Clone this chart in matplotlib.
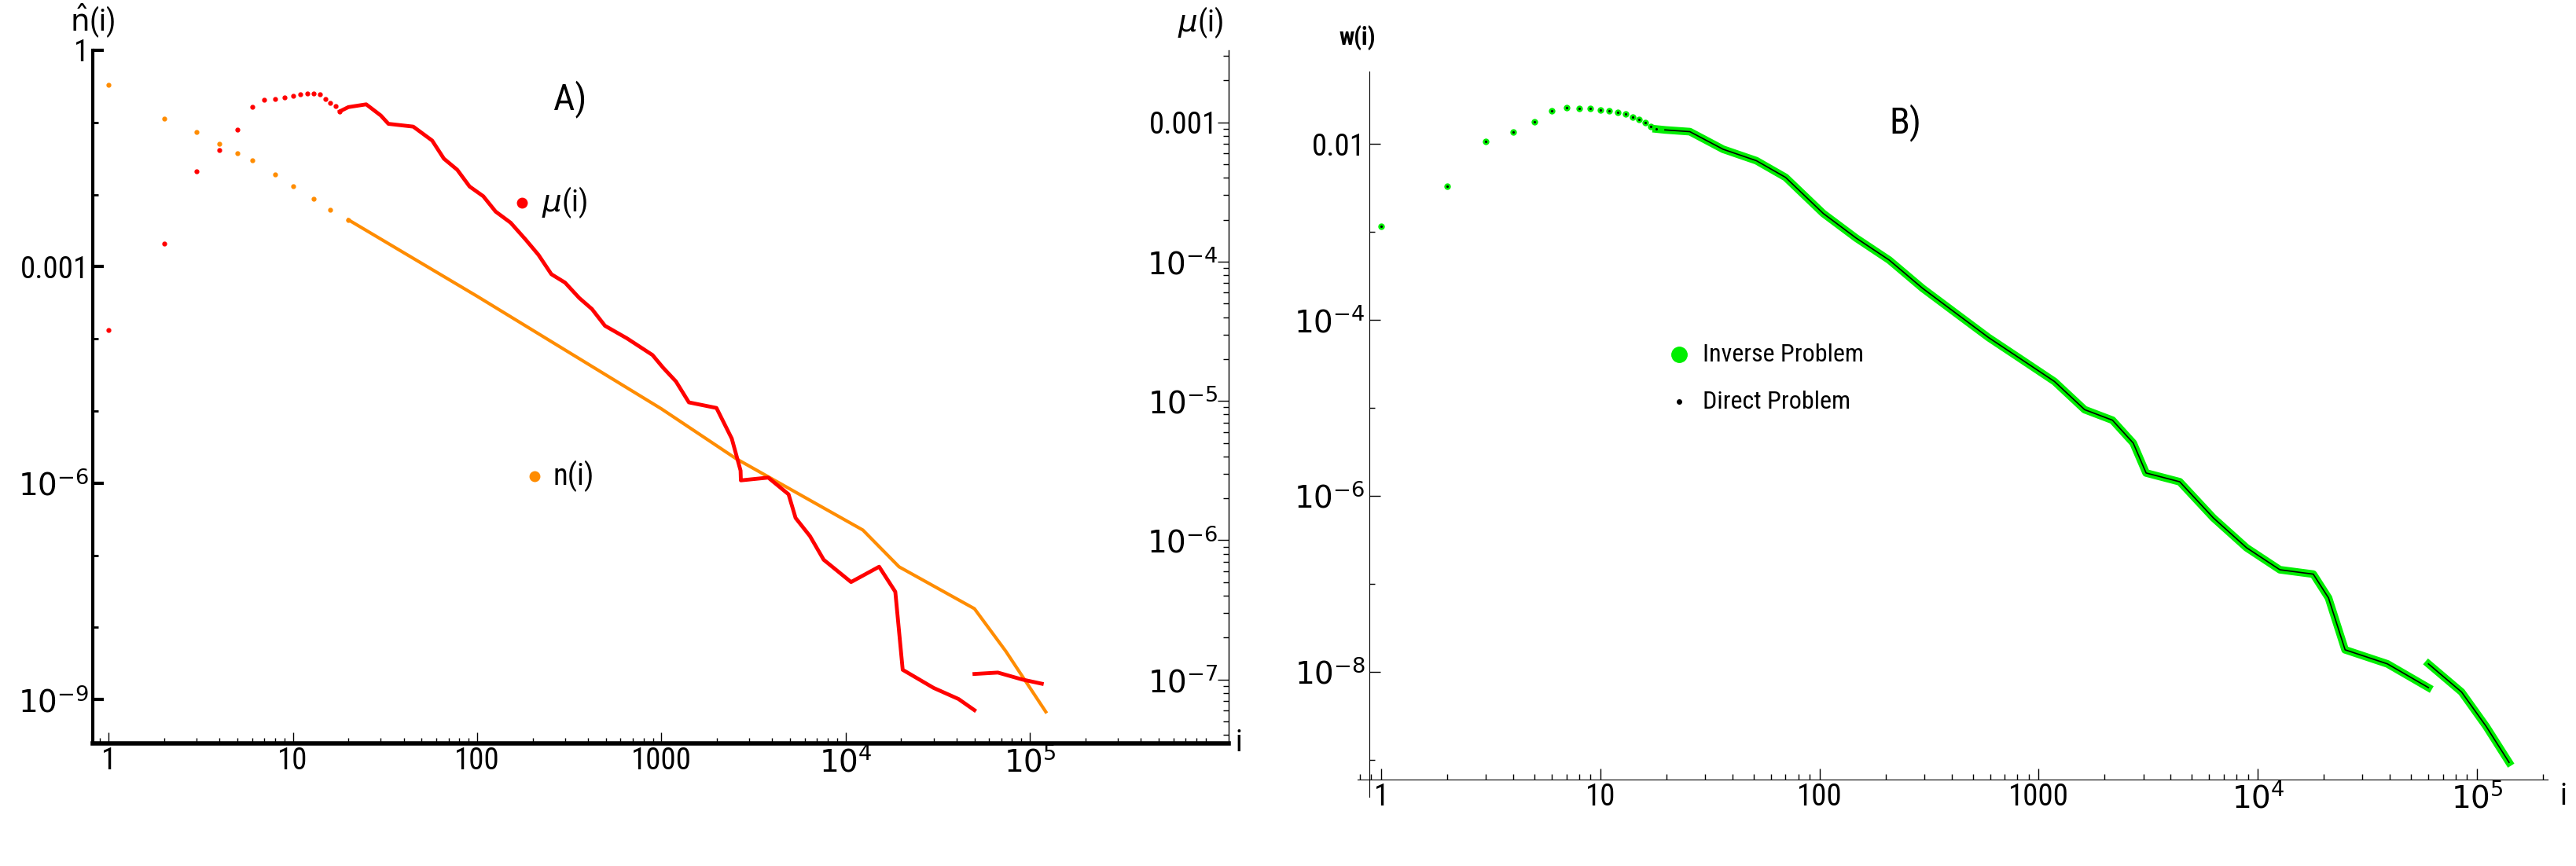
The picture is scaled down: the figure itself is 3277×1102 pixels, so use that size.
import numpy as np
import matplotlib
matplotlib.use("Agg")
import matplotlib.pyplot as plt
from matplotlib.ticker import FixedLocator, FuncFormatter, NullFormatter

plt.rcParams['font.family'] = ['Liberation Sans Narrow', 'Roboto Condensed', 'DejaVu Sans']

# ---- Panel A data ----
n_i_dots = [1, 2, 3, 4, 5, 6, 8, 10, 13, 16, 20]
n_log_dots = [-0.48, -0.95, -1.13, -1.30, -1.43, -1.53, -1.72, -1.88, -2.06, -2.21, -2.35]
n_i_line = [20, 100, 1000, 2540, 12400, 19500, 50000, 74000, 122000]
n_log_line = [-2.35, -3.41, -4.97, -5.66, -6.65, -7.16, -7.74, -8.33, -9.17]

mu_i_dots = list(range(1, 19))
mu_log_dots = [-4.49, -3.87, -3.35, -3.20, -3.05, -2.89, -2.84, -2.83, -2.82, -2.81, -2.80,
               -2.79, -2.79, -2.80, -2.83, -2.86, -2.88, -2.92]
mu_i_seg1 = [18, 20, 25, 30, 33, 45, 57, 66, 78, 91, 108, 126, 152, 183, 215, 253, 300, 358, 420, 494,
             650, 895, 1020, 1200, 1410, 1990, 2410, 2690, 2700, 3800, 4900, 5350, 6400, 7600, 10700,
             15200, 18600, 20400, 30000, 41000, 50000]
mu_log_seg1 = [-2.92, -2.89, -2.87, -2.95, -3.01, -3.03, -3.13, -3.26, -3.34, -3.46, -3.53, -3.64, -3.72,
               -3.84, -3.95, -4.09, -4.15, -4.26, -4.34, -4.46, -4.55, -4.67, -4.76, -4.86, -5.01, -5.05,
               -5.27, -5.50, -5.57, -5.55, -5.67, -5.84, -5.97, -6.14, -6.30, -6.19, -6.37, -6.93, -7.06,
               -7.14, -7.22]
mu_i_seg2 = [50000, 67000, 91000, 116000]
mu_log_seg2 = [-6.96, -6.95, -7.00, -7.03]

# ---- Panel B data ----
w_i_dots = list(range(1, 19))
w_log_dots = [-2.94, -2.48, -1.97, -1.86, -1.75, -1.62, -1.59, -1.60, -1.60, -1.61, -1.62, -1.64,
              -1.66, -1.69, -1.72, -1.76, -1.80, -1.83]
w_i_seg1 = [18, 19.7, 25.6, 36.3, 51.5, 70, 104, 147, 208, 295, 417, 590, 835, 1180, 1620, 2170, 2700,
            3090, 4400, 6260, 8880, 12600, 17900, 21000, 25000, 39000, 60000]
w_log_seg1 = [-1.83, -1.84, -1.86, -2.06, -2.19, -2.38, -2.79, -3.07, -3.32, -3.64, -3.92, -4.20, -4.45,
              -4.70, -5.02, -5.14, -5.40, -5.74, -5.84, -6.25, -6.59, -6.84, -6.89, -7.16, -7.75, -7.91,
              -8.18]
w_i_seg2 = [60000, 85000, 110000, 140000]
w_log_seg2 = [-7.91, -8.23, -8.62, -9.03]

RED = '#ff0000'
ORANGE = '#ff8c00'
GREEN = '#00ee00'
FS = 28


def p10(a):
    return 10.0 ** np.asarray(a, dtype=float)


def lab(v, pos=None):
    k = int(round(np.log10(v)))
    if k == 0:
        return '1'
    if k in (1, 2, 3):
        return str(10 ** k)
    if k == -3:
        return '0.001'
    if k == -2:
        return '0.01'
    return r'$10^{%d}$' % k


fig = plt.figure(figsize=(32.77, 11.02), dpi=100)

# ---------- Panel A ----------
axA = fig.add_axes([0.036, 0.142, 0.441, 0.80])
axA.set_xscale('log'); axA.set_yscale('log')
axA.set_xlim(0.82, 1.2e6); axA.set_ylim(2.5e-10, 1)
axA.plot(n_i_dots, p10(n_log_dots), 'o', color=ORANGE, ms=3.5)
axA.plot(n_i_line, p10(n_log_line), '-', color=ORANGE, lw=3)
axA.spines['top'].set_visible(False)
axA.spines['right'].set_visible(False)
axA.spines['left'].set_linewidth(3)
axA.spines['bottom'].set_linewidth(4)
axA.yaxis.set_major_locator(FixedLocator([1, 1e-3, 1e-6, 1e-9]))
axA.yaxis.set_minor_locator(FixedLocator([1e-1, 1e-2, 1e-4, 1e-5, 1e-7, 1e-8]))
axA.yaxis.set_major_formatter(FuncFormatter(lab))
axA.yaxis.set_minor_formatter(NullFormatter())
axA.xaxis.set_major_locator(FixedLocator([1, 10, 100, 1000, 1e4, 1e5]))
axA.xaxis.set_major_formatter(FuncFormatter(lab))
axA.tick_params(axis='both', which='major', direction='in', length=10, width=3, labelsize=FS)
axA.tick_params(axis='both', which='minor', direction='in', length=5, width=2)
axA.tick_params(axis='x', which='both', direction='in', width=1)
axA.text(0.0, 1.015, r'$\hat{\rm n}$(i)', transform=axA.transAxes, fontsize=FS, ha='center', va='bottom')
axA.text(1.0, 0.0, ' i', transform=axA.transAxes, fontsize=FS, ha='left', va='center')

axM = axA.twinx()
axM.set_yscale('log')
axM.set_ylim(3.5e-8, 3.3e-3)
axM.plot(mu_i_dots, p10(mu_log_dots), 'o', color=RED, ms=3.5)
axM.plot(mu_i_seg1, p10(mu_log_seg1), '-', color=RED, lw=3.5)
axM.plot(mu_i_seg2, p10(mu_log_seg2), '-', color=RED, lw=3.5)
for s in ['top', 'left', 'bottom']:
    axM.spines[s].set_visible(False)
axM.spines['right'].set_linewidth(1)
axM.yaxis.set_major_locator(FixedLocator([1e-3, 1e-4, 1e-5, 1e-6, 1e-7]))
axM.yaxis.set_major_formatter(FuncFormatter(lab))
axM.yaxis.set_minor_formatter(NullFormatter())
axM.tick_params(axis='y', which='major', direction='in', length=10, width=1, labelsize=FS, pad=-10)
axM.tick_params(axis='y', which='minor', direction='in', length=5, width=1)
for t in axM.get_yticklabels():
    t.set_horizontalalignment('right')
axM.text(0.995, 1.015, r'$\mu$(i)', transform=axA.transAxes, fontsize=FS, ha='right', va='bottom')

axA.text(0.42, 0.93, 'A)', transform=axA.transAxes, fontsize=34, ha='center', va='center')
axA.plot([0.378], [0.78], 'o', color=RED, ms=9, transform=axA.transAxes, clip_on=False)
axA.text(0.395, 0.78, r'$\mu$(i)', transform=axA.transAxes, fontsize=FS, va='center')
axA.plot([0.389], [0.385], 'o', color=ORANGE, ms=9, transform=axA.transAxes, clip_on=False)
axA.text(0.405, 0.385, 'n(i)', transform=axA.transAxes, fontsize=FS, va='center')

# ---------- Panel B ----------
axB = fig.add_axes([0.527, 0.080, 0.462, 0.837])
axB.set_xscale('log'); axB.set_yscale('log')
axB.set_xlim(0.78, 2.1e5); axB.set_ylim(3.8e-10, 0.066)
axB.plot(w_i_dots, p10(w_log_dots), 'o', color=GREEN, ms=5)
axB.plot(w_i_seg1, p10(w_log_seg1), '-', color=GREEN, lw=7)
axB.plot(w_i_seg2, p10(w_log_seg2), '-', color=GREEN, lw=7)
axB.plot(w_i_dots, p10(w_log_dots), 'o', color='black', ms=1.2)
axB.plot(w_i_seg1[1:], p10(w_log_seg1[1:]), '-', color='black', lw=1.2)
axB.plot(w_i_seg2, p10(w_log_seg2), '-', color='black', lw=1.2)
axB.spines['top'].set_visible(False)
axB.spines['right'].set_visible(False)
axB.spines['left'].set_position(('data', 0.88))
axB.spines['bottom'].set_position(('data', 1e-9 * 0.6))
axB.yaxis.set_major_locator(FixedLocator([1e-2, 1e-4, 1e-6, 1e-8]))
axB.yaxis.set_minor_locator(FixedLocator([1e-3, 1e-5, 1e-7, 1e-9]))
axB.yaxis.set_major_formatter(FuncFormatter(lab))
axB.yaxis.set_minor_formatter(NullFormatter())
axB.xaxis.set_major_locator(FixedLocator([1, 10, 100, 1000, 1e4, 1e5]))
axB.xaxis.set_major_formatter(FuncFormatter(lab))
axB.tick_params(axis='both', which='major', direction='in', length=10, width=1, labelsize=FS)
axB.tick_params(axis='both', which='minor', direction='in', length=5, width=1)
axB.text(0.0, 1.03, 'w(i)', transform=axB.transAxes, fontsize=22, fontweight='bold', ha='center', va='bottom')
axB.text(1.01, 0.0, 'i', transform=axB.transAxes, fontsize=FS, ha='left', va='center')
axB.text(0.46, 0.93, 'B)', transform=axB.transAxes, fontsize=34, ha='center', va='center')
axB.plot([0.27], [0.61], 'o', color=GREEN, ms=14, transform=axB.transAxes, clip_on=False)
axB.text(0.29, 0.61, 'Inverse Problem', transform=axB.transAxes, fontsize=23, va='center')
axB.plot([0.27], [0.545], 'o', color='black', ms=4, transform=axB.transAxes, clip_on=False)
axB.text(0.29, 0.545, 'Direct Problem', transform=axB.transAxes, fontsize=23, va='center')

fig.savefig('out.png', dpi=100)
